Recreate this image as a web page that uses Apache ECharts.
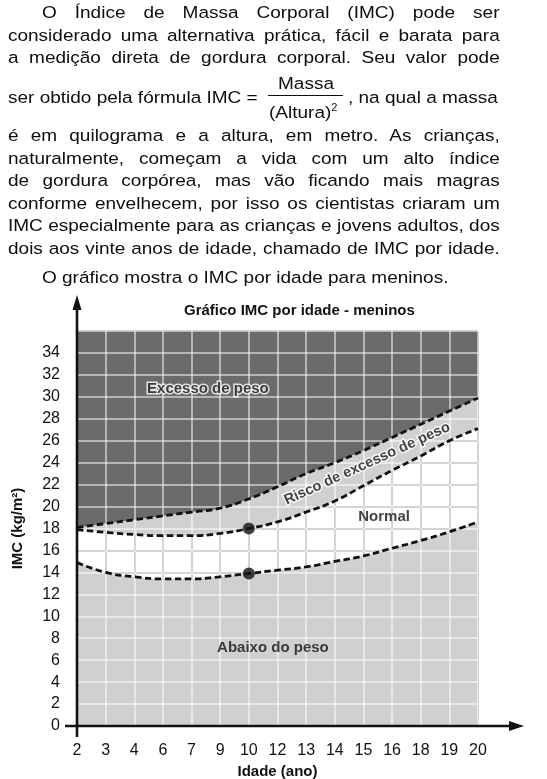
<!DOCTYPE html>
<html>
<head>
<meta charset="utf-8">
<title>IMC por idade - meninos</title>
<script src="https://cdn.jsdelivr.net/npm/echarts@6/dist/echarts.min.js"></script>
<style>
  html, body { margin: 0; padding: 0; background: #fff; }
  #wrap { position: relative; width: 547px; height: 779px; overflow: hidden; }
  #chart { position: absolute; left: 0; top: 0; width: 547px; height: 779px; }
  .txt {
    position: absolute;
    font-family: "Liberation Sans", Arial, sans-serif;
    font-size: 17.2px;
    line-height: 22px;
    color: #0d0d0d;
    white-space: nowrap;
    transform-origin: 0 0;
    transform: scaleX(1.105);
  }
  .just { white-space: normal; text-align: justify; text-align-last: justify; }
  .bar { position: absolute; height: 1.4px; background: #0d0d0d; }
</style>
</head>
<body>
<div id="wrap">
  <div id="chart"></div>

  <div class="txt just" style="left:42px;top:1px;width:414px">O Índice de Massa Corporal (IMC) pode ser</div>
  <div class="txt just" style="left:8px;top:23.5px;width:445px">considerado uma alternativa prática, fácil e barata para</div>
  <div class="txt just" style="left:8px;top:46px;width:445px">a medição direta de gordura corporal. Seu valor pode</div>

  <div class="txt" style="left:8px;top:85.6px">ser obtido pela fórmula IMC =</div>
  <div class="txt" style="left:278px;top:71.5px">Massa</div>
  <div class="bar" style="left:268px;top:95px;width:75px"></div>
  <div class="txt" style="left:269px;top:101px">(Altura)<sup style="font-size:10px;line-height:0">2</sup></div>
  <div class="txt" style="left:348px;top:85.6px">, na qual a massa</div>

  <div class="txt just" style="left:8px;top:124px;width:445px">é em quilograma e a altura, em metro. As crianças,</div>
  <div class="txt just" style="left:8px;top:146.6px;width:445px">naturalmente, começam a vida com um alto índice</div>
  <div class="txt just" style="left:8px;top:169.2px;width:445px">de gordura corpórea, mas vão ficando mais magras</div>
  <div class="txt just" style="left:8px;top:191.8px;width:445px">conforme envelhecem, por isso os cientistas criaram um</div>
  <div class="txt just" style="left:8px;top:214.4px;width:445px">IMC especialmente para as crianças e jovens adultos, dos</div>
  <div class="txt just" style="left:8px;top:237px;width:445px">dois aos vinte anos de idade, chamado de IMC por idade.</div>

  <div class="txt" style="left:42px;top:266px">O gráfico mostra o IMC por idade para meninos.</div>
</div>

<script>
// idades no eixo x (espaçamento igual, rótulos irregulares)
var idades = ['2', '3', '4', '6', '7', '9', '10', '12', '13', '14', '15', '16', '18', '19', '20'];

// curvas-limite (IMC em kg/m²)
var limiteExcesso = [18.1, 18.45, 18.8, 19.15, 19.5, 19.85, 20.7, 21.8, 23.0, 24.0, 25.1, 26.3, 27.5, 28.7, 29.9];
var limiteRisco = [17.9, 17.65, 17.45, 17.35, 17.35, 17.55, 18.0, 18.6, 19.5, 20.5, 21.9, 23.3, 24.6, 26.0, 27.1];
var limiteAbaixo = [14.9, 14.0, 13.6, 13.4, 13.4, 13.6, 13.9, 14.2, 14.5, 15.0, 15.5, 16.2, 16.9, 17.7, 18.6];

var yMin = 0;
var yMax = 36;
var yPasso = 2;

// pontos marcados aos 10 anos
var idadeMarcada = '10';

function faixa(sup, inf) {
  return sup.map(function (v, i) { return +(v - inf[i]).toFixed(3); });
}
var topo = idades.map(function () { return yMax; });
var iMarc = idades.indexOf(idadeMarcada);

var chart = echarts.init(document.getElementById('chart'), null, { renderer: 'canvas' });

var tracejado = { color: '#111', width: 2.8, type: [6.5, 3.5] };
var eixoY = { type: 'value', min: yMin, max: yMax, interval: yPasso };
var semEixo = { axisLine: { show: false }, axisTick: { show: false }, axisLabel: { show: false } };
var gradeClara = { show: true, lineStyle: { color: 'rgba(255,255,255,0.5)', width: 2 } };
var gradeCinza = { show: true, interval: 0, lineStyle: { color: '#a8a8a8', width: 2 } };

var option = {
  backgroundColor: '#fff',
  animation: false,
  textStyle: { fontFamily: '"Liberation Sans", Arial, sans-serif' },
  title: {
    text: 'Gráfico IMC por idade - meninos',
    left: 179,
    top: 298,
    textStyle: { fontSize: 15, fontWeight: 'bold', color: '#111' }
  },
  grid: { left: 77, right: 69, top: 331, bottom: 53, outerBoundsMode: 'none' },
  xAxis: [
    {
      type: 'category',
      data: idades,
      boundaryGap: false,
      name: 'Idade (ano)',
      nameLocation: 'middle',
      nameGap: 33,
      nameTextStyle: { fontSize: 15, fontWeight: 'bold', color: '#111' },
      axisLine: { show: false },
      axisTick: { show: false },
      axisLabel: { interval: 0, fontSize: 16, color: '#111', margin: 17 },
      splitLine: gradeCinza
    },
    // eixo numérico auxiliar (mesma escala) para a grade clara e os rótulos
    Object.assign({ type: 'value', min: 0, max: idades.length - 1, interval: 1, z: 3, splitLine: gradeClara }, semEixo)
  ],
  yAxis: [
    Object.assign({}, eixoY, {
      name: 'IMC (kg/m²)',
      nameLocation: 'middle',
      nameGap: 52,
      nameTextStyle: { fontSize: 15, fontWeight: 'bold', color: '#111' },
      axisLine: { show: false },
      axisTick: { show: false },
      axisLabel: {
        fontSize: 16, color: '#111', margin: 17,
        formatter: function (v) { return v === yMax ? '' : v; }
      },
      splitLine: gradeCinza
    }),
    Object.assign({}, eixoY, { z: 3, splitLine: gradeClara }, semEixo)
  ],
  series: [
    // faixas empilhadas
    {
      name: 'Abaixo do peso', type: 'line', stack: 'imc', smooth: true, showSymbol: false, silent: true, z: 2,
      lineStyle: { width: 0 }, areaStyle: { color: '#d0d0d0', opacity: 1 },
      data: limiteAbaixo
    },
    {
      name: 'Normal', type: 'line', stack: 'imc', smooth: true, showSymbol: false, silent: true, z: 2,
      lineStyle: { width: 0 },
      data: faixa(limiteRisco, limiteAbaixo)
    },
    {
      name: 'Risco de excesso de peso', type: 'line', stack: 'imc', smooth: true, showSymbol: false, silent: true, z: 2,
      lineStyle: { width: 0 }, areaStyle: { color: '#d0d0d0', opacity: 1 },
      data: faixa(limiteExcesso, limiteRisco)
    },
    {
      name: 'Excesso de peso', type: 'line', stack: 'imc', smooth: true, showSymbol: false, silent: true, z: 2,
      lineStyle: { width: 0 }, areaStyle: { color: '#6b6b6b', opacity: 1 },
      data: faixa(topo, limiteExcesso)
    },
    // curvas tracejadas
    { type: 'line', smooth: true, showSymbol: false, silent: true, z: 5, lineStyle: tracejado, data: limiteExcesso },
    { type: 'line', smooth: true, showSymbol: false, silent: true, z: 5, lineStyle: tracejado, data: limiteRisco },
    { type: 'line', smooth: true, showSymbol: false, silent: true, z: 5, lineStyle: tracejado, data: limiteAbaixo },
    // pontos aos 10 anos
    {
      type: 'scatter', xAxisIndex: 1, symbolSize: 12, z: 6, silent: true,
      itemStyle: { color: '#111' },
      data: [[iMarc, limiteRisco[iMarc]], [iMarc, limiteAbaixo[iMarc]]]
    },
    // rótulos das regiões
    {
      type: 'scatter', xAxisIndex: 1, symbolSize: 0, z: 7, silent: true,
      label: {
        show: true, position: 'inside', fontSize: 15, fontWeight: 'bold', color: '#111',
        formatter: function (p) { return p.name; }
      },
      data: [
        { name: 'Excesso de peso', value: [4.57, 30.7], label: { textBorderColor: '#fff', textBorderWidth: 3 } },
        { name: 'Risco de excesso de peso', value: [10.13, 23.9], label: { fontSize: 14.5, rotate: 24.5, textBorderColor: '#fff', textBorderWidth: 3 } },
        { name: 'Normal', value: [10.72, 19.1] },
        { name: 'Abaixo do peso', value: [6.84, 7.1] }
      ]
    }
  ]
};
chart.setOption(option);

// eixos com setas, posicionados a partir das escalas do gráfico
var o = chart.convertToPixel({ xAxisIndex: 1, yAxisIndex: 0 }, [0, yMin]);
var fim = chart.convertToPixel({ xAxisIndex: 1, yAxisIndex: 0 }, [idades.length - 1, yMax]);
var preto = { stroke: '#111', lineWidth: 2.6 };
chart.setOption({
  graphic: [
    { type: 'line', z: 20, silent: true, shape: { x1: o[0] - 12, y1: o[1], x2: fim[0] + 34, y2: o[1] }, style: preto },
    { type: 'polygon', z: 20, silent: true, shape: { points: [[fim[0] + 46, o[1]], [fim[0] + 31, o[1] - 5], [fim[0] + 31, o[1] + 5]] }, style: { fill: '#111' } },
    { type: 'line', z: 20, silent: true, shape: { x1: o[0], y1: o[1] + 11, x2: o[0], y2: fim[1] - 24 }, style: preto },
    { type: 'polygon', z: 20, silent: true, shape: { points: [[o[0], fim[1] - 36], [o[0] - 4.5, fim[1] - 21], [o[0] + 4.5, fim[1] - 21]] }, style: { fill: '#111' } }
  ]
});
</script>
</body>
</html>
